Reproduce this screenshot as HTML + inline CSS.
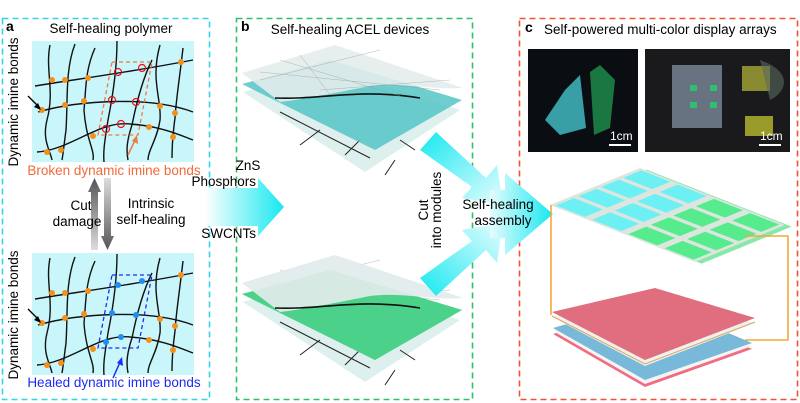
<!DOCTYPE html>
<html><head><meta charset="utf-8"><style>
html,body{margin:0;padding:0;background:#fff}
svg{display:block}
text{font-family:"Liberation Sans",Arial,sans-serif}
</style></head><body>
<svg width="800" height="403" viewBox="0 0 800 403" xmlns="http://www.w3.org/2000/svg">
<defs>
<linearGradient id="ga" x1="0" x2="1" y1="0" y2="0"><stop offset="0" stop-color="#fff"/><stop offset="1" stop-color="#16e8f0"/></linearGradient>
<linearGradient id="gd1" x1="0" x2="1" y1="0" y2="1"><stop offset="0" stop-color="#16e8f0"/><stop offset="1" stop-color="#e8fdfe"/></linearGradient>
<linearGradient id="gd2" x1="0" x2="1" y1="1" y2="0"><stop offset="0" stop-color="#16e8f0"/><stop offset="1" stop-color="#e8fdfe"/></linearGradient>
<linearGradient id="gr" x1="0" x2="1"><stop offset="0" stop-color="#e6fcfe"/><stop offset="1" stop-color="#16e8f0"/></linearGradient>
<linearGradient id="gup" x1="0" x2="0" y1="0" y2="1"><stop offset="0" stop-color="#555"/><stop offset="1" stop-color="#ddd"/></linearGradient>
<linearGradient id="gdn" x1="0" x2="0" y1="0" y2="1"><stop offset="0" stop-color="#ddd"/><stop offset="1" stop-color="#555"/></linearGradient>
<g id="net" fill="none" stroke="#111" stroke-width="1.4">
<path d="M35,86 C70,80 120,74 193,60"/>
<path d="M38,112 C80,100 150,96 193,112"/>
<path d="M37,152 C70,150 100,120 130,124 C160,126 180,135 193,140"/>
<path d="M50,45 C45,70 55,90 47,120 C42,140 50,150 52,160"/>
<path d="M75,44 C65,70 68,100 66,130 C64,145 63,155 62,160"/>
<path d="M95,48 C85,70 86,90 84,110 C86,140 95,150 93,160"/>
<path d="M117,41 C117,70 112,100 108,120 C105,140 103,150 104,162"/>
<path d="M152,60 C142,80 136,105 132,125 C127,140 126,150 128,160"/>
<path d="M160,45 C150,80 162,100 160,120 C157,140 148,150 148,160"/>
<path d="M183,48 C180,75 176,100 175,118 C172,140 172,150 172,158"/>
</g>
</defs>

<rect x="2.5" y="18.5" width="207" height="381" fill="none" stroke="#34d6e6" stroke-width="1.6" stroke-dasharray="6,4"/>
<rect x="236.5" y="18.5" width="236" height="381" fill="none" stroke="#2fbf6a" stroke-width="1.6" stroke-dasharray="6,4"/>
<rect x="519.5" y="18.5" width="278" height="381" fill="none" stroke="#f25232" stroke-width="1.6" stroke-dasharray="6,4"/>

<!-- panel a -->
<text x="6" y="31" font-size="14" font-weight="bold">a</text>
<text x="111" y="33" font-size="13.5" text-anchor="middle">Self-healing polymer</text>
<rect x="32" y="41" width="162" height="121" fill="#c8f6fa"/>
<rect x="32" y="253" width="162" height="122" fill="#c8f6fa"/>
<use href="#net"/>
<use href="#net" transform="translate(0,213)"/>
<polygon points="112,62 152,62 138,135 98,135" fill="none" stroke="#f07a3e" stroke-width="1.3" stroke-dasharray="4,3"/>
<polygon points="112,275 152,275 138,348 98,348" fill="none" stroke="#1d2cf0" stroke-width="1.3" stroke-dasharray="4,3"/>
<g fill="#f3901c">
<circle cx="52" cy="80" r="3"/><circle cx="65" cy="80" r="3"/><circle cx="88" cy="78" r="3"/><circle cx="181" cy="62" r="3"/>
<circle cx="42" cy="110" r="3"/><circle cx="65" cy="105" r="3"/><circle cx="84" cy="101" r="3"/><circle cx="160" cy="106" r="3"/><circle cx="175" cy="113" r="3"/>
<circle cx="47" cy="152" r="3"/><circle cx="61" cy="150" r="3"/><circle cx="93" cy="136" r="3"/><circle cx="149" cy="127" r="3"/><circle cx="173" cy="137" r="3"/>
</g>
<g fill="#f3901c" transform="translate(0,213)">
<circle cx="52" cy="80" r="3"/><circle cx="65" cy="80" r="3"/><circle cx="88" cy="78" r="3"/><circle cx="181" cy="62" r="3"/>
<circle cx="42" cy="110" r="3"/><circle cx="65" cy="105" r="3"/><circle cx="84" cy="101" r="3"/><circle cx="160" cy="106" r="3"/><circle cx="175" cy="113" r="3"/>
<circle cx="47" cy="152" r="3"/><circle cx="61" cy="150" r="3"/><circle cx="93" cy="136" r="3"/><circle cx="149" cy="127" r="3"/><circle cx="173" cy="137" r="3"/>
</g>
<g fill="none" stroke="#e8141c" stroke-width="1.2">
<circle cx="118" cy="72" r="3.5"/><circle cx="142" cy="68" r="3.5"/><circle cx="112" cy="100" r="3.5"/><circle cx="136" cy="102" r="3.5"/><circle cx="106" cy="129" r="3.5"/><circle cx="121" cy="124" r="3.5"/>
</g>
<g fill="#1e8ef0">
<circle cx="118" cy="285" r="3"/><circle cx="142" cy="281" r="3"/><circle cx="112" cy="313" r="3"/><circle cx="136" cy="315" r="3"/><circle cx="106" cy="342" r="3"/><circle cx="121" cy="337" r="3"/>
</g>
<path d="M28,96 L40,108" stroke="#000" stroke-width="1.3"/><polygon points="41,110 34,107 38,103"/>
<path d="M28,309 L40,321" stroke="#000" stroke-width="1.3"/><polygon points="41,323 34,320 38,316"/>
<path d="M128,155 L136,138" stroke="#f07a3e" stroke-width="1.5"/><polygon points="137,135 138,144 132,141" fill="#f07a3e"/>
<path d="M113,378 L121,360" stroke="#1d2cf0" stroke-width="1.5"/><polygon points="122,357 123,366 117,363" fill="#1d2cf0"/>
<text transform="translate(18,102) rotate(-90)" font-size="13.5" text-anchor="middle">Dynamic imine bonds</text>
<text transform="translate(18,315) rotate(-90)" font-size="13.5" text-anchor="middle">Dynamic imine bonds</text>
<text x="114" y="175" font-size="13.5" fill="#f06a3a" text-anchor="middle">Broken dynamic imine bonds</text>
<text x="114" y="387" font-size="13.5" fill="#1d2cf0" text-anchor="middle">Healed dynamic imine bonds</text>
<polygon points="91,250 91,192 88,192 94.5,178 101,192 98,192 98,250" fill="url(#gup)"/>
<polygon points="104,178 104,236 101,236 107.5,250 114,236 111,236 111,178" fill="url(#gdn)"/>
<text x="81" y="210" font-size="13.5" text-anchor="middle">Cut</text>
<text x="77" y="226" font-size="13.5" text-anchor="middle">damage</text>
<text x="151" y="208" font-size="13.5" text-anchor="middle">Intrinsic</text>
<text x="151" y="224" font-size="13.5" text-anchor="middle">self-healing</text>

<!-- arrow into b -->
<polygon points="205,188 258,188 258,178 284,207 258,236 258,226 205,226" fill="url(#ga)"/>
<text x="248" y="170" font-size="13.5" text-anchor="middle">ZnS</text>
<text x="256" y="186" font-size="13.5" text-anchor="end">Phosphors</text>
<text x="256" y="238" font-size="13.5" text-anchor="end">SWCNTs</text>

<!-- panel b -->
<text x="241" y="31" font-size="14" font-weight="bold">b</text>
<text x="350" y="34" font-size="13.5" text-anchor="middle">Self-healing ACEL devices</text>
<g id="dev">
<polygon points="243,92 330,68 460,110 365,172" fill="#d6ecea" opacity="0.8"/>
<g stroke="#222" stroke-width="1"><path d="M280,112 L370,158"/><path d="M320,130 L300,145"/><path d="M345,155 L360,140"/><path d="M395,160 L385,175"/><path d="M400,140 L415,150"/></g>
<polygon points="242,84 330,60 462,100 375,150" fill="#56c4c6" opacity="0.85"/>
<path d="M242,73 L335,45 L463,88 C430,90 400,82 370,86 C340,92 300,100 280,102 Z" fill="#e3ecec" opacity="0.9"/>
<path d="M275,98 C320,100 360,88 420,98" stroke="#111" stroke-width="1.6" fill="none"/>
<g stroke="#999" stroke-width="0.5" opacity="0.7"><path d="M260,72 L440,90"/><path d="M280,60 L400,96"/><path d="M300,55 L330,95"/><path d="M260,80 L380,50"/><path d="M320,90 L450,80"/></g>
</g>
<use href="#dev" transform="translate(0,210)" />
<polygon points="242,294 330,270 462,310 375,360" fill="#45d27c" opacity="0.85"/>
<path d="M242,283 L335,255 L463,298 C430,300 400,292 370,296 C340,302 300,310 280,312 Z" fill="#e3ecec" opacity="0.9"/>
<path d="M275,308 C320,310 360,298 420,308" stroke="#111" stroke-width="1.6" fill="none"/>

<!-- arrows to assembly -->
<polygon points="420,150 436,132 486,178 497,165 503,205 462,198 472,187" fill="url(#gd1)"/>
<polygon points="420,278 436,296 486,250 497,263 503,223 462,230 472,241" fill="url(#gd2)"/>
<polygon points="490,190 505,190 505,173 553,214 505,255 505,238 490,238" fill="url(#gr)"/>
<text transform="translate(428,210) rotate(-90)" font-size="13.5" text-anchor="middle">Cut</text>
<text transform="translate(441,210) rotate(-90)" font-size="13.5" text-anchor="middle">into modules</text>
<text x="498" y="209" font-size="13.5" text-anchor="middle">Self-healing</text>
<text x="503" y="225" font-size="13.5" text-anchor="middle">assembly</text>

<!-- panel c -->
<text x="525" y="32" font-size="14" font-weight="bold">c</text>
<text x="544" y="34" font-size="13.5">Self-powered multi-color display arrays</text>
<rect x="528" y="49" width="110" height="103" fill="#0a0e12"/>
<polygon points="545,120 565,90 580,75 586,128 560,135" fill="#3fb8c0" opacity="0.85"/>
<polygon points="590,72 600,65 615,80 610,128 594,135" fill="#1f8a4a" opacity="0.85"/>
<text x="610" y="140" font-size="12" fill="#fff">1cm</text>
<rect x="609" y="144" width="22" height="2" fill="#fff"/>
<rect x="645" y="49" width="145" height="103" fill="#1a1a1c"/>
<rect x="672" y="65" width="50" height="63" fill="#8a9aac" opacity="0.7"/>
<rect x="690" y="85" width="7" height="6" fill="#2ec070"/><rect x="710" y="85" width="7" height="6" fill="#2ec070"/>
<rect x="690" y="102" width="7" height="6" fill="#2ec070"/><rect x="710" y="102" width="7" height="6" fill="#2ec070"/>
<rect x="742" y="66" width="28" height="25" fill="#8a8a30"/><rect x="745" y="116" width="28" height="20" fill="#9a9a2a"/>
<path d="M760,60 C790,70 790,90 770,100" fill="#5a6a60" opacity="0.6"/>
<text x="760" y="140" font-size="12" fill="#fff">1cm</text>
<rect x="759" y="144" width="22" height="2" fill="#fff"/>

<!-- array -->
<g transform="matrix(22.5,-9.25,36.25,14.25,550,205)">
<polygon points="0.05,0.15 4.05,0.15 4.05,4.15 0.05,4.15" fill="#5fe08a" opacity="0.75"/>
<rect x="0" y="0" width="4" height="4" fill="#dde5df"/>
<g fill="#6cf0f4">
<rect x="0.1" y="0.1" width="0.8" height="0.8"/><rect x="1.1" y="0.1" width="0.8" height="0.8"/><rect x="2.1" y="0.1" width="0.8" height="0.8"/><rect x="3.1" y="0.1" width="0.8" height="0.8"/>
<rect x="0.1" y="1.1" width="0.8" height="0.8"/><rect x="1.1" y="1.1" width="0.8" height="0.8"/><rect x="2.1" y="1.1" width="0.8" height="0.8"/><rect x="3.1" y="1.1" width="0.8" height="0.8"/>
</g>
<g fill="#56ec8e">
<rect x="0.1" y="2.1" width="0.8" height="0.8"/><rect x="1.1" y="2.1" width="0.8" height="0.8"/><rect x="2.1" y="2.1" width="0.8" height="0.8"/><rect x="3.1" y="2.1" width="0.8" height="0.8"/>
<rect x="0.1" y="3.1" width="0.8" height="0.8"/><rect x="1.1" y="3.1" width="0.8" height="0.8"/><rect x="2.1" y="3.1" width="0.8" height="0.8"/><rect x="3.1" y="3.1" width="0.8" height="0.8"/>
</g>
</g>
<!-- connectors -->
<path d="M551,205 L551,315 M745,236 L788,236 L788,340 L745,340" fill="none" stroke="#f4a83a" stroke-width="1.6"/>
<!-- stack -->
<polygon points="553,334 650,306 752,349 645,387" fill="#f06c84"/>
<polygon points="553,331 650,303 752,346 645,384" fill="#f4f4f2"/>
<polygon points="553,328 650,300 752,343 645,380" fill="#78b8d8"/>
<polygon points="552,317 655,293 755,323 645,366" fill="#f0f0ee"/>
<path d="M552,316 L645,364 L755,322" fill="none" stroke="#d8a860" stroke-width="1"/>
<polygon points="552,312 655,288 755,318 645,360" fill="#e06e7e"/>
</svg>
</body></html>
